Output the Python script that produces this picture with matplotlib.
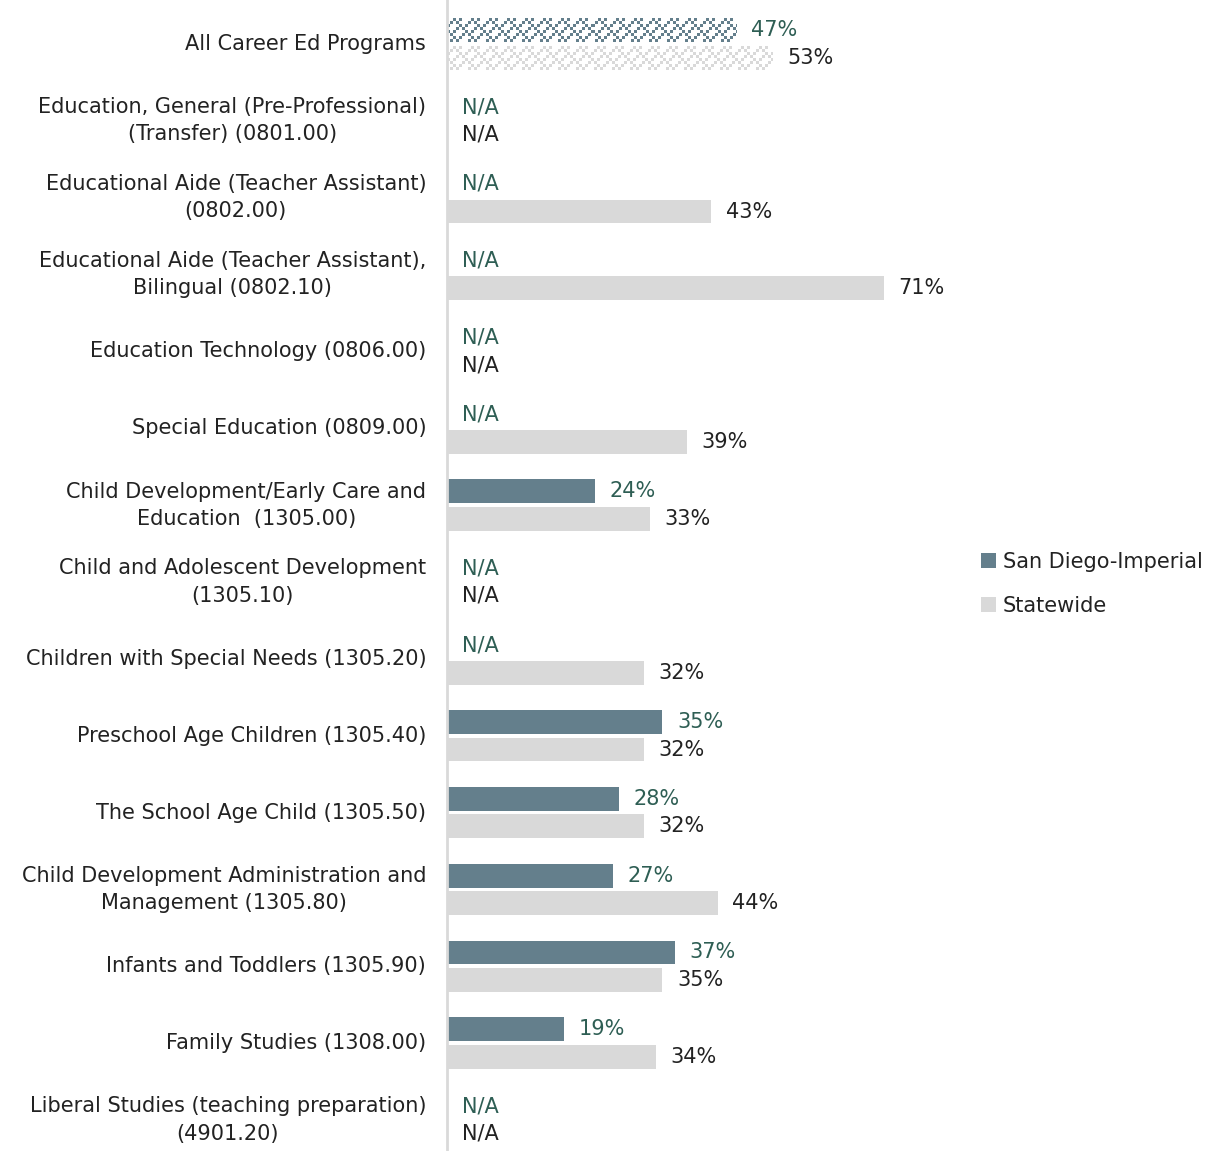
import matplotlib
matplotlib.use("Agg")
import matplotlib.pyplot as plt
import numpy as np
from matplotlib.patches import Patch
from matplotlib.colors import to_rgb

plt.rcParams['font.family'] = ['DejaVu Sans']

# data (None = N/A)
categories = [
    "All Career Ed Programs",
    "Education, General (Pre-Professional)\n(Transfer) (0801.00)",
    "Educational Aide (Teacher Assistant)\n(0802.00)",
    "Educational Aide (Teacher Assistant),\nBilingual (0802.10)",
    "Education Technology (0806.00)",
    "Special Education (0809.00)",
    "Child Development/Early Care and\nEducation  (1305.00)",
    "Child and Adolescent Development\n(1305.10)",
    "Children with Special Needs (1305.20)",
    "Preschool Age Children (1305.40)",
    "The School Age Child (1305.50)",
    "Child Development Administration and\nManagement (1305.80)",
    "Infants and Toddlers (1305.90)",
    "Family Studies (1308.00)",
    "Liberal Studies (teaching preparation)\n(4901.20)",
]
san_diego = [47, None, None, None, None, None, 24, None, None, 35, 28, 27, 37, 19, None]
statewide = [53, None, 43, 71, None, 39, 33, None, 32, 32, 32, 44, 35, 34, None]
series_names = ["San Diego-Imperial", "Statewide"]

dark = "#647f8c"
light = "#d9d9d9"
dark_txt = "#2e5e54"
light_txt = "#222222"

W, H = 1212, 1151
fig = plt.figure(figsize=(W / 100, H / 100), dpi=100)
ax_left = 447 / W
ax_right = 1062 / W
ax = fig.add_axes([ax_left, 0, ax_right - ax_left, 1])

row_px = 76.86
top_data = -44 / row_px
bot_data = 14 + (H - 1120) / row_px

y = np.arange(len(categories))
off = 0.18
h = 0.31
fs = 15
px_per_x = (1062 - 447) / 100


def checker_bar(yc, val, col):
    # patterned bar for the "All programs" row
    bar = ax.barh(yc, val, height=h, color="none", linewidth=0)[0]
    nx = int(round(val * px_per_x))
    ny = int(round(h * row_px))
    yy, xx = np.mgrid[0:ny, 0:nx]
    mask = ((xx // 3) + (yy // 3)) % 2 == 0
    mask &= ((xx // 6) + (yy // 3)) % 3 != 0
    img = np.ones((ny, nx, 3))
    img[mask] = to_rgb(col)
    im = ax.imshow(img, extent=(0, val, yc + h / 2, yc - h / 2),
                   interpolation="nearest", aspect="auto", zorder=2)
    im.set_clip_path(bar)


for i in range(len(categories)):
    for val, dy, col, tcol in [(san_diego[i], -off, dark, dark_txt),
                               (statewide[i], off, light, light_txt)]:
        if val is None:
            ax.text(2.4, y[i] + dy, "N/A", color=tcol, fontsize=fs,
                    va="center", ha="left")
            continue
        if i == 0:
            checker_bar(y[i] + dy, val, col)
        else:
            ax.barh(y[i] + dy, val, height=h, color=col, linewidth=0)
        ax.text(val + 2.4, y[i] + dy, f"{val}%", color=tcol, fontsize=fs,
                va="center", ha="left")

ax.set_ylim(bot_data, top_data)
ax.set_xlim(0, 100)
ax.set_yticks(y)
ax.set_yticklabels(categories, fontsize=fs, color="#222222")
ax.tick_params(axis="y", length=0, pad=15)
ax.set_xticks([])
for s in ["top", "right", "bottom"]:
    ax.spines[s].set_visible(False)
ax.spines["left"].set_color("#d9d9d9")
ax.spines["left"].set_linewidth(2)
for lab in ax.get_yticklabels():
    lab.set_multialignment("center")
    lab.set_linespacing(1.45)
    lab.set_verticalalignment("center")

handles = [Patch(facecolor=dark), Patch(facecolor=light)]
fig.legend(handles, series_names, loc="center left",
           bbox_to_anchor=(962 / W, 1 - 584 / H), frameon=False,
           fontsize=fs, handlelength=0.75, handleheight=0.75,
           handletextpad=0.3, labelspacing=1.15, labelcolor="#222222")

fig.savefig("out.png", dpi=100)
